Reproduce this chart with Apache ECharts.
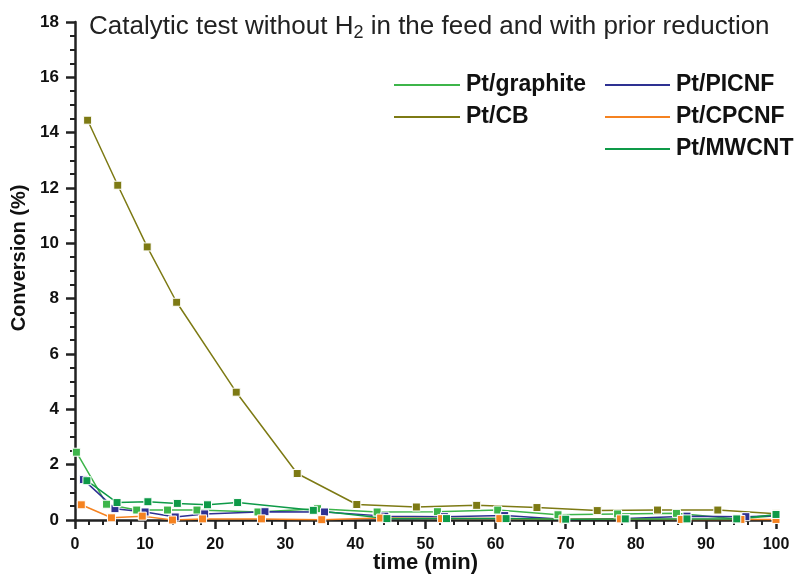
<!DOCTYPE html>
<html>
<head>
<meta charset="utf-8">
<script src="https://cdn.jsdelivr.net/npm/echarts@6/dist/echarts.min.js"></script>
<style>
  html, body { margin: 0; padding: 0; background: #fff; }
  #chart { width: 806px; height: 574px; }
</style>
</head>
<body>
<div id="chart"></div>
<script>
var myChart = echarts.init(document.getElementById('chart'));

// time (min) and conversion (%)
var graphiteX = [0.2, 4.5, 8.8, 13.2, 17.4, 26.1, 34.6, 43.1, 51.7, 60.3, 68.9, 77.4, 85.8, 94.4, 100];
var graphiteY = [2.45, 0.57, 0.36, 0.36, 0.36, 0.29, 0.41, 0.29, 0.30, 0.36, 0.19, 0.22, 0.24, 0.04, 0.15];

var cbX = [1.8, 6.1, 10.3, 14.5, 23.0, 31.7, 40.2, 48.7, 57.3, 65.9, 74.5, 83.1, 91.7, 100];
var cbY = [14.45, 12.1, 9.87, 7.87, 4.62, 1.68, 0.56, 0.47, 0.53, 0.45, 0.34, 0.36, 0.36, 0.23];

var picnfX = [1.2, 5.7, 10.0, 14.3, 18.5, 27.1, 35.6, 44.2, 52.7, 61.3, 70.0, 78.6, 87.3, 95.7, 100];
var picnfY = [1.46, 0.41, 0.29, 0.11, 0.22, 0.30, 0.29, 0.14, 0.12, 0.16, 0.02, 0.05, 0.14, 0.12, 0.15];

var cpcnfX = [0.9, 5.2, 9.6, 13.9, 18.2, 26.6, 35.2, 43.6, 52.3, 60.6, 69.6, 77.8, 86.5, 95.0, 100];
var cpcnfY = [0.55, 0.08, 0.14, 0.0, 0.04, 0.04, 0.01, 0.07, 0.05, 0.05, 0.03, 0.04, 0.02, 0.02, 0.02];

var mwcntX = [1.7, 6.0, 10.4, 14.6, 18.9, 23.2, 34.0, 44.5, 53.0, 61.5, 70.0, 78.5, 87.3, 94.4, 100];
var mwcntY = [1.42, 0.63, 0.66, 0.60, 0.55, 0.63, 0.35, 0.05, 0.05, 0.05, 0.03, 0.04, 0.04, 0.04, 0.20];

var names = ['Pt/graphite', 'Pt/CB', 'Pt/PICNF', 'Pt/CPCNF', 'Pt/MWCNT'];
var colors = ['#3db54a', '#7d7a14', '#2e3192', '#f58220', '#0e9a48'];

function pairs(xs, ys) {
  return xs.map(function (x, i) { return [x, ys[i]]; });
}

function makeSeries(name, color, xs, ys) {
  return {
    name: name,
    type: 'line',
    data: pairs(xs, ys),
    symbol: 'rect',
    symbolSize: 8,
    showAllSymbol: true,
    lineStyle: { color: color, width: 1.5 },
    itemStyle: { color: color, borderColor: '#fff', borderWidth: 1 },
    emphasis: { disabled: true }
  };
}

var font = 'Liberation Sans, Arial, sans-serif';
var legendText = { fontFamily: font, fontWeight: 'bold', fontSize: 23, lineHeight: 24, color: '#111' };

myChart.setOption(option = {
  animation: false,
  title: {
    text: 'Catalytic test without H{sub|2} in the feed and with prior reduction',
    left: 84,
    top: 7,
    textStyle: {
      fontFamily: font, fontWeight: 'normal', fontSize: 26, lineHeight: 30, color: '#222',
      rich: { sub: { fontFamily: font, fontSize: 18, lineHeight: 18, color: '#222', verticalAlign: 'bottom', padding: [14, 0, 0, 0] } }
    }
  },
  legend: [{
    data: ['Pt/graphite', 'Pt/CB'],
    orient: 'vertical',
    left: 392,
    top: 73,
    padding: 0,
    itemGap: 8,
    itemWidth: 68,
    itemHeight: 4,
    icon: 'roundRect',
    textStyle: legendText
  }, {
    data: ['Pt/PICNF', 'Pt/CPCNF', 'Pt/MWCNT'],
    orient: 'vertical',
    left: 603,
    top: 73,
    padding: 0,
    itemGap: 8,
    itemWidth: 67,
    itemHeight: 4,
    icon: 'roundRect',
    textStyle: legendText
  }],
  grid: { left: 75, right: 30, top: 22, bottom: 54, outerBoundsMode: 'none' },
  xAxis: {
    type: 'value',
    min: 0, max: 100, interval: 10,
    name: 'time (min)',
    nameLocation: 'middle',
    nameGap: 32,
    nameMoveOverlap: false,
    nameTextStyle: { fontFamily: font, fontWeight: 'bold', fontSize: 22, color: '#111' },
    axisLine: { onZero: false, lineStyle: { color: '#222', width: 2.5 } },
    axisTick: { length: 9, lineStyle: { color: '#222', width: 2.5 } },
    minorTick: { show: true, splitNumber: 5, length: 5, lineStyle: { color: '#222', width: 2 } },
    axisLabel: { fontFamily: font, fontWeight: 'bold', fontSize: 16, color: '#111', margin: 17 },
    splitLine: { show: false }
  },
  yAxis: {
    type: 'value',
    min: 0, max: 18, interval: 2,
    name: 'Conversion (%)',
    nameLocation: 'middle',
    nameGap: 46,
    nameMoveOverlap: false,
    nameTextStyle: { fontFamily: font, fontWeight: 'bold', fontSize: 20, color: '#111', padding: [0, 0, 0, 26] },
    axisLine: { show: true, lineStyle: { color: '#222', width: 2.5 } },
    axisTick: { show: true, length: 9, lineStyle: { color: '#222', width: 2.5 } },
    minorTick: { show: true, splitNumber: 4, length: 5, lineStyle: { color: '#222', width: 2 } },
    axisLabel: { fontFamily: font, fontWeight: 'bold', fontSize: 17, color: '#111', margin: 16 },
    splitLine: { show: false }
  },
  series: [
    makeSeries(names[0], colors[0], graphiteX, graphiteY),
    makeSeries(names[1], colors[1], cbX, cbY),
    makeSeries(names[2], colors[2], picnfX, picnfY),
    makeSeries(names[3], colors[3], cpcnfX, cpcnfY),
    makeSeries(names[4], colors[4], mwcntX, mwcntY)
  ]
});

window.addEventListener('resize', function () {
  myChart.resize();
});
</script>
</body>
</html>
